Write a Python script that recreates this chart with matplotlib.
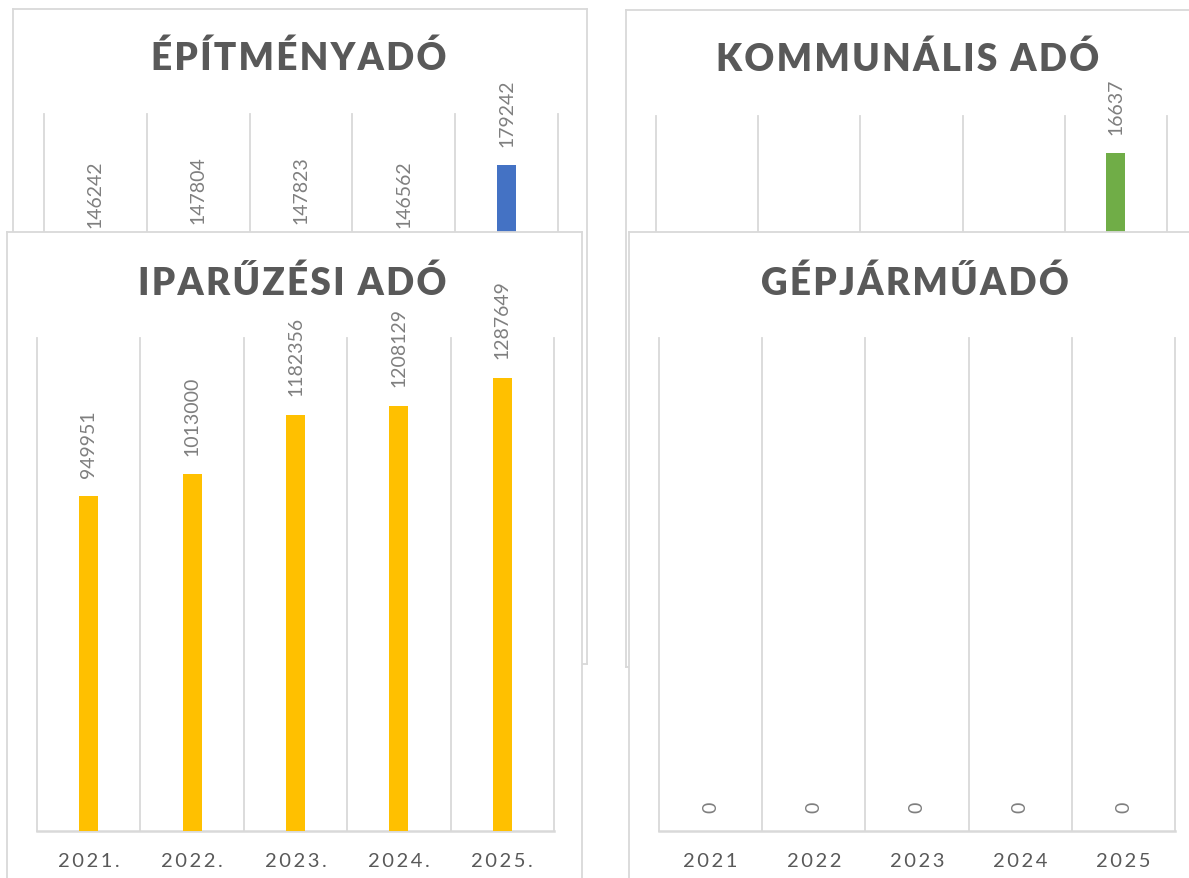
import numpy as np
import matplotlib
matplotlib.use("Agg")
import matplotlib.pyplot as plt

plt.rcParams['font.family'] = ['Lato', 'DejaVu Sans']

# data
years_dot = ["2021.", "2022.", "2023.", "2024.", "2025."]
years = ["2021", "2022", "2023", "2024", "2025"]

epitmenyado = [146242, 147804, 147823, 146562, 179242]
kommunalis = [0, 0, 0, 0, 16637]
iparuzesi = [949951, 1013000, 1182356, 1208129, 1287649]
gepjarmu = [0, 0, 0, 0, 0]

W, H = 1189, 879
GRID = '#d9d9d9'
TITLE_C = '#595959'
LABEL_C = '#7f7f7f'


def fbox(x0, y0, x1, y1):
    return [x0 / W, 1 - y1 / H, (x1 - x0) / W, (y1 - y0) / H]


def spaced(s, sep='\u2009'):
    return sep.join(s)


def draw_chart(fig, frame, plot, title, title_xy, cats, values, color, ymax, z):
    # white card with thin grey border
    fr = fig.add_axes(fbox(*frame))
    fr.set_zorder(z)
    fr.set_xlim(frame[0], frame[2])
    fr.set_ylim(frame[3], frame[1])
    fr.set_xticks([])
    fr.set_yticks([])
    fr.set_facecolor('white')
    for s in fr.spines.values():
        s.set_color(GRID)
        s.set_linewidth(1.3)
    fr.text(title_xy[0], title_xy[1], spaced(title, '\u200a'), ha='center', va='center',
            fontsize=26.6, fontweight='heavy', color=TITLE_C)

    ax = fig.add_axes(fbox(*plot))
    ax.set_zorder(z + 0.5)
    ax.patch.set_alpha(0)
    n = len(cats)
    x = np.arange(n)
    ax.bar(x, values, width=0.185, color=color, zorder=3)
    ax.set_xlim(-0.5, n - 0.5)
    ax.set_ylim(0, ymax)
    for b in np.arange(n + 1) - 0.5:
        ax.axvline(b, color=GRID, lw=1.3, zorder=1, clip_on=False)
    for s in ['top', 'left', 'right']:
        ax.spines[s].set_visible(False)
    ax.spines['bottom'].set_color(GRID)
    ax.spines['bottom'].set_linewidth(1.8)
    ax.set_yticks([])
    ax.set_xticks(x)
    ax.set_xticklabels([spaced(c) for c in cats], fontsize=14.5, color=TITLE_C)
    ax.tick_params(axis='x', length=0, pad=15)
    for xi, v in zip(x, values):
        ax.annotate(str(v), (xi, v), xytext=(0, 14), textcoords='offset points',
                    rotation=90, ha='center', va='bottom', fontsize=14,
                    color=LABEL_C, annotation_clip=False)
    return ax


fig = plt.figure(figsize=(W / 100, H / 100), dpi=100)
fig.patch.set_facecolor('white')

draw_chart(fig, (13, 10, 587, 665), (44, 115, 558, 609), "ÉPÍTMÉNYADÓ", (299, 58),
           years_dot, epitmenyado, '#4472C4', 200000, 1)
draw_chart(fig, (626, 11, 1200, 668), (656, 117, 1167, 611), "KOMMUNÁLIS ADÓ", (908, 59),
           years_dot, kommunalis, '#70AD47', 18000, 3)
draw_chart(fig, (7, 233, 582, 895), (37, 339, 554, 832), "IPARŰZÉSI ADÓ", (292, 283),
           years_dot, iparuzesi, '#FFC000', 1400000, 5)
draw_chart(fig, (629, 233, 1205, 895), (659, 339, 1175, 832), "GÉPJÁRMŰADÓ", (915, 283),
           years, gepjarmu, '#4472C4', 1, 7)

fig.savefig("out.png", dpi=100, facecolor='white')
